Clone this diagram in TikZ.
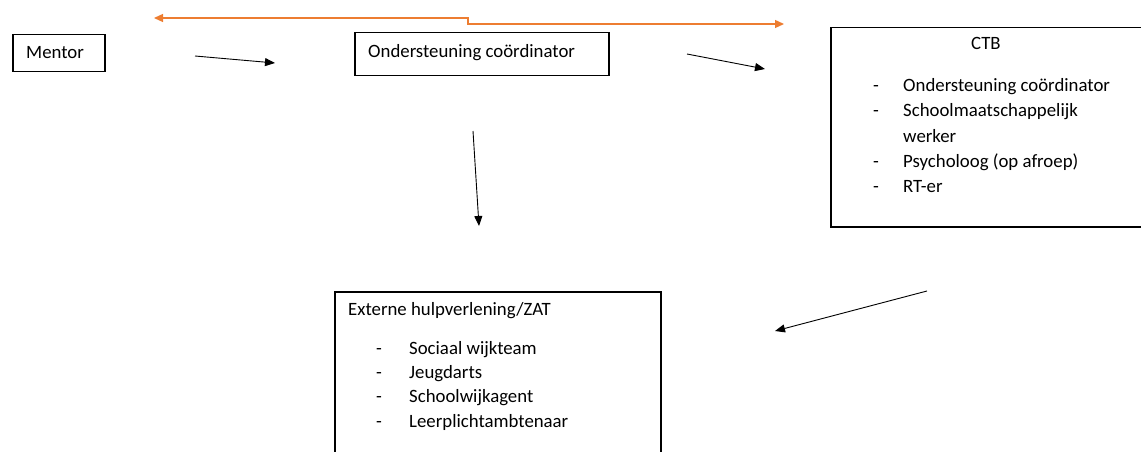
\documentclass[tikz,border=0pt]{standalone}
\usepackage{fontspec}
\setmainfont{Carlito}
\usetikzlibrary{arrows.meta}
\definecolor{orangeline}{HTML}{ED7D31}
\begin{document}
\begin{tikzpicture}[x=1pt,y=-1pt,
  box/.style={draw=black,line width=1.5pt,inner sep=0pt,anchor=north west},
  txt/.style={anchor=base west,inner sep=0pt,font=\fontsize{18.8}{24}\selectfont},
  arr/.style={draw=black,line width=0.9pt,-{Triangle[length=10pt,width=8pt]}},
  oarr/.style={draw=orangeline,line width=1.3pt,{Triangle[length=9pt,width=8pt]}-{Triangle[length=9pt,width=8pt]}}]
\useasboundingbox (0,0) rectangle (1141,452);
% boxes
\node[box,minimum width=92pt,minimum height=37pt] (mentor) at (12,34) {};
\node[box,minimum width=254pt,minimum height=43pt] (ond) at (354,32) {};
\node[box,minimum width=330pt,minimum height=199pt] (ctb) at (830,27) {};
\node[box,minimum width=326pt,minimum height=180pt] (ext) at (334,291) {};
% texts
\node[txt] (tmentor) at (26,59) {Mentor};
\node[txt] (tond) at (368,58) {Ondersteuning coördinator};
\node[txt] (tctb) at (971,50) {CTB};
\node[txt] (d1) at (873,92) {-};
\node[txt] (c1) at (903,92) {Ondersteuning coördinator};
\node[txt] (d2) at (873,117) {-};
\node[txt] (c2) at (903,117) {Schoolmaatschappelijk};
\node[txt] (c2b) at (903,142) {werker};
\node[txt] (d3) at (873,167) {-};
\node[txt] (c3) at (903,167) {Psycholoog (op afroep)};
\node[txt] (d4) at (873,192) {-};
\node[txt] (c4) at (903,192) {RT-er};
\node[txt] (text) at (348,315) {Externe hulpverlening/ZAT};
\node[txt] (e1d) at (376,354) {-};
\node[txt] (e1) at (409,354) {Sociaal wijkteam};
\node[txt] (e2d) at (376,378) {-};
\node[txt] (e2) at (409,378) {Jeugdarts};
\node[txt] (e3d) at (376,402) {-};
\node[txt] (e3) at (409,402) {Schoolwijkagent};
\node[txt] (e4d) at (376,427) {-};
\node[txt] (e4) at (409,427) {Leerplichtambtenaar};
% connector end points
\coordinate (a1s) at (195,56);
\coordinate (a1e) at (275,63);
\coordinate (a2s) at (687,54);
\coordinate (a2e) at (765,69);
\coordinate (a3s) at (473,131);
\coordinate (a3e) at (479,226);
\coordinate (a4s) at (927,291);
\coordinate (a4e) at (775,331);
\coordinate (oL) at (154,18);
\coordinate (oR) at (784,24);
\draw[arr] (a1s) -- (a1e);
\draw[arr] (a2s) -- (a2e);
\draw[arr] (a3s) -- (a3e);
\draw[arr] (a4s) -- (a4e);
\draw[oarr] (oL) -- (468,18) -- (468,24) -- (oR);
\end{tikzpicture}
\end{document}
